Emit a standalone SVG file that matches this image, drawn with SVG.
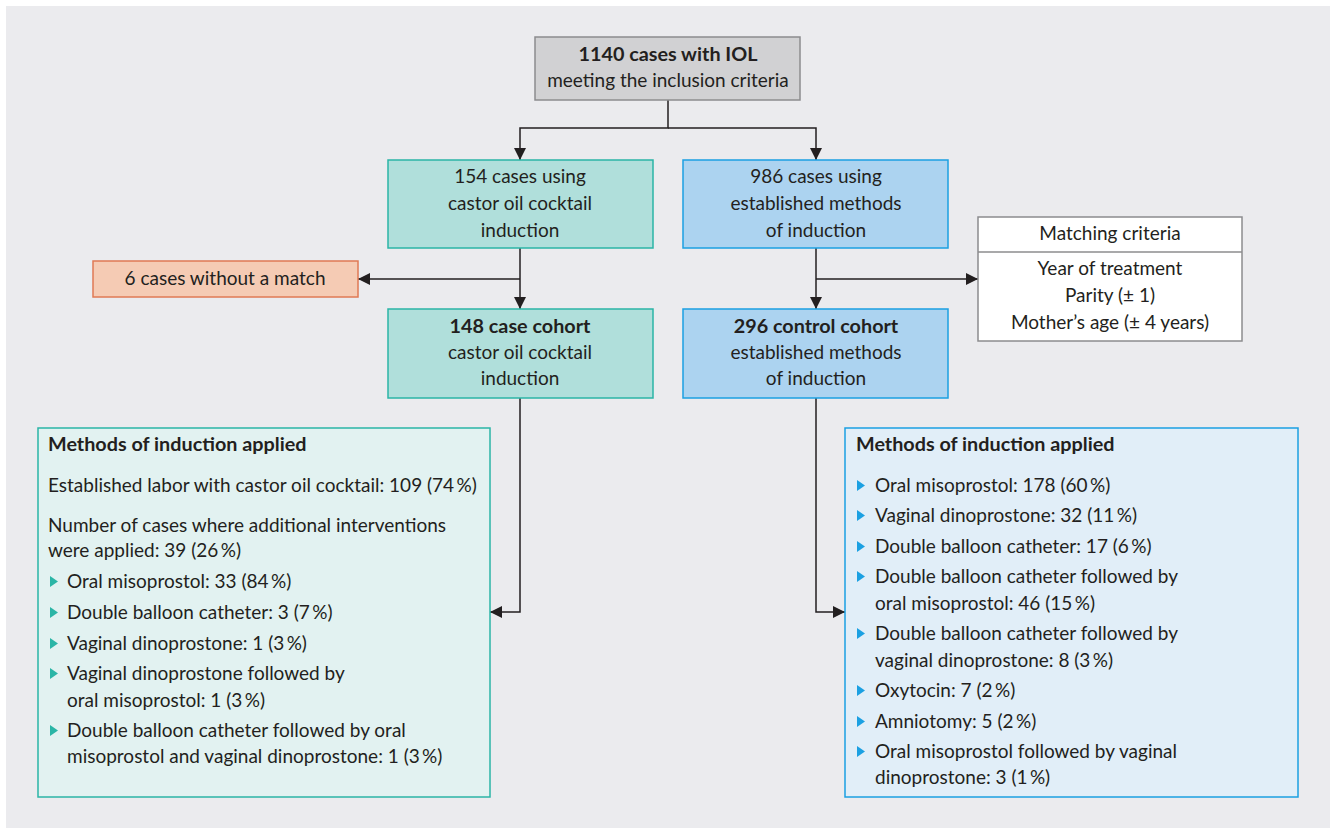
<svg xmlns="http://www.w3.org/2000/svg" width="1335" height="828" viewBox="0 0 1335 828">
<defs>
<marker id="ah" viewBox="0 0 12 12" refX="12" refY="6" markerWidth="12" markerHeight="12" markerUnits="userSpaceOnUse" orient="auto">
<path d="M0,0 L12,6 L0,12 Z" fill="#231f20"/>
</marker>
<style>
text{font-family:Lato,"Liberation Sans",sans-serif;font-size:19px;fill:#231f20}
.c{text-anchor:middle}
.b{font-weight:bold;font-size:19.8px}
.gray{fill:#d1d1d3;stroke:#8c8c8e;stroke-width:1.5}
.teal{fill:#b0dfdb;stroke:#2bb5a6;stroke-width:1.5}
.blue{fill:#acd3f0;stroke:#1ba0e2;stroke-width:1.5}
.orange{fill:#f5cbb4;stroke:#e07a54;stroke-width:1.5}
.white{fill:#ffffff;stroke:#8c8c8e;stroke-width:1.5}
.lteal{fill:#e2f2f1;stroke:#2bb5a6;stroke-width:1.5}
.lblue{fill:#e1eef8;stroke:#1ba0e2;stroke-width:1.5}
.tb{fill:#2bb5a6}
.bb{fill:#1ba0e2}
.con{fill:none;stroke:#231f20;stroke-width:1.5}
</style>
</defs>
<rect x="6" y="6" width="1324" height="822" fill="#ebebee"/>

<g id="connectors">
<path class="con" d="M668,100 V128 H520 V160" marker-end="url(#ah)"/>
<path class="con" d="M668,128 H816 V160" marker-end="url(#ah)"/>
<path class="con" d="M520,248 V309" marker-end="url(#ah)"/>
<path class="con" d="M520,279 H358" marker-end="url(#ah)"/>
<path class="con" d="M816,248 V309" marker-end="url(#ah)"/>
<path class="con" d="M816,279 H978" marker-end="url(#ah)"/>
<path class="con" d="M520,398 V612 H490" marker-end="url(#ah)"/>
<path class="con" d="M816,398 V612 H845" marker-end="url(#ah)"/>
</g>

<g id="n-total">
<rect class="gray" x="535" y="37" width="265" height="63"/>
<text class="c b" x="668" y="61">1140 cases with IOL</text>
<text class="c" x="668" y="87">meeting the inclusion criteria</text>
</g>

<g id="n-castor">
<rect class="teal" x="388" y="160" width="265" height="88"/>
<text class="c" x="520" y="183">154 cases using</text>
<text class="c" x="520" y="210">castor oil cocktail</text>
<text class="c" x="520" y="237">induction</text>
</g>

<g id="n-established">
<rect class="blue" x="683" y="160" width="265" height="88"/>
<text class="c" x="816" y="183">986 cases using</text>
<text class="c" x="816" y="210">established methods</text>
<text class="c" x="816" y="237">of induction</text>
</g>

<g id="n-nomatch">
<rect class="orange" x="93" y="261" width="265" height="36"/>
<text class="c" x="225" y="285">6 cases without a match</text>
</g>

<g id="n-matching">
<rect class="white" x="978" y="217" width="264" height="124"/>
<line x1="978" y1="252" x2="1242" y2="252" stroke="#8c8c8e" stroke-width="1.5"/>
<text class="c" x="1110" y="240">Matching criteria</text>
<text class="c" x="1110" y="275">Year of treatment</text>
<text class="c" x="1110" y="302">Parity (± 1)</text>
<text class="c" x="1110" y="329">Mother’s age (± 4 years)</text>
</g>

<g id="n-casecohort">
<rect class="teal" x="388" y="309" width="265" height="89"/>
<text class="c b" x="520" y="333">148 case cohort</text>
<text class="c" x="520" y="359">castor oil cocktail</text>
<text class="c" x="520" y="385">induction</text>
</g>

<g id="n-controlcohort">
<rect class="blue" x="683" y="309" width="265" height="89"/>
<text class="c b" x="816" y="333">296 control cohort</text>
<text class="c" x="816" y="359">established methods</text>
<text class="c" x="816" y="385">of induction</text>
</g>

<g id="n-methods-castor">
<rect class="lteal" x="38" y="428" width="452" height="369"/>
<text class="b" x="48" y="451">Methods of induction applied</text>
<text x="48" y="492">Established labor with castor oil cocktail: 109 (74&#8201;%)</text>
<text x="48" y="532">Number of cases where additional interventions</text>
<text x="48" y="557">were applied: 39 (26&#8201;%)</text>
<path class="tb" d="M50,576 L58,581.5 L50,587 Z"/>
<text x="67" y="588">Oral misoprostol: 33 (84&#8201;%)</text>
<path class="tb" d="M50,607 L58,612.5 L50,618 Z"/>
<text x="67" y="619">Double balloon catheter: 3 (7&#8201;%)</text>
<path class="tb" d="M50,638 L58,643.5 L50,649 Z"/>
<text x="67" y="650">Vaginal dinoprostone: 1 (3&#8201;%)</text>
<path class="tb" d="M50,668 L58,673.5 L50,679 Z"/>
<text x="67" y="680">Vaginal dinoprostone followed by</text>
<text x="67" y="707">oral misoprostol: 1 (3&#8201;%)</text>
<path class="tb" d="M50,725 L58,730.5 L50,736 Z"/>
<text x="67" y="737">Double balloon catheter followed by oral</text>
<text x="67" y="763">misoprostol and vaginal dinoprostone: 1 (3&#8201;%)</text>
</g>

<g id="n-methods-control">
<rect class="lblue" x="845" y="428" width="453" height="369"/>
<text class="b" x="856" y="451">Methods of induction applied</text>
<path class="bb" d="M857,480 L865,485.5 L857,491 Z"/>
<text x="875" y="492">Oral misoprostol: 178 (60&#8201;%)</text>
<path class="bb" d="M857,510 L865,515.5 L857,521 Z"/>
<text x="875" y="522">Vaginal dinoprostone: 32 (11&#8201;%)</text>
<path class="bb" d="M857,541 L865,546.5 L857,552 Z"/>
<text x="875" y="553">Double balloon catheter: 17 (6&#8201;%)</text>
<path class="bb" d="M857,571 L865,576.5 L857,582 Z"/>
<text x="875" y="583">Double balloon catheter followed by</text>
<text x="875" y="610">oral misoprostol: 46 (15&#8201;%)</text>
<path class="bb" d="M857,628 L865,633.5 L857,639 Z"/>
<text x="875" y="640">Double balloon catheter followed by</text>
<text x="875" y="667">vaginal dinoprostone: 8 (3&#8201;%)</text>
<path class="bb" d="M857,685 L865,690.5 L857,696 Z"/>
<text x="875" y="697">Oxytocin: 7 (2&#8201;%)</text>
<path class="bb" d="M857,716 L865,721.5 L857,727 Z"/>
<text x="875" y="728">Amniotomy: 5 (2&#8201;%)</text>
<path class="bb" d="M857,746 L865,751.5 L857,757 Z"/>
<text x="875" y="758">Oral misoprostol followed by vaginal</text>
<text x="875" y="784">dinoprostone: 3 (1&#8201;%)</text>
</g>
</svg>
